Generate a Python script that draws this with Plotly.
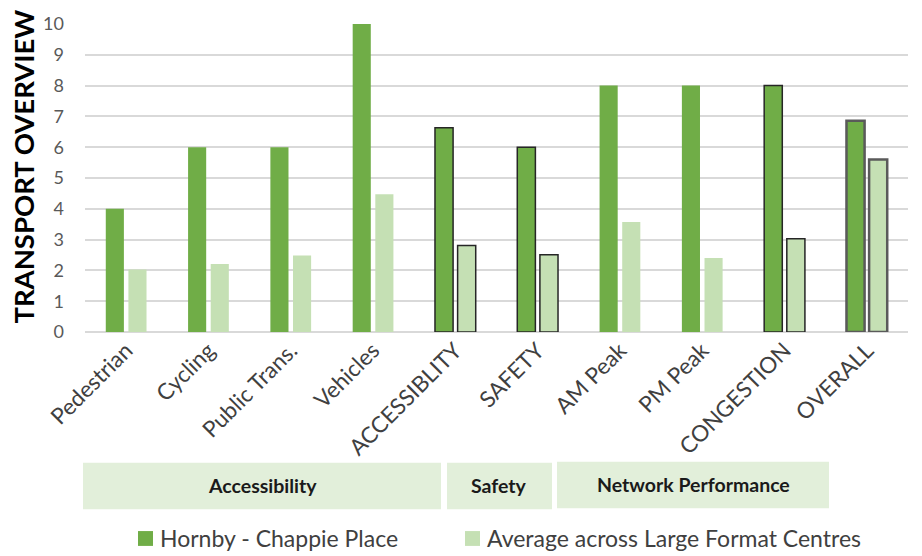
import plotly.graph_objects as go

categories = ["Pedestrian", "Cycling", "Public Trans.", "Vehicles", "ACCESSIBLITY",
              "SAFETY", "AM Peak", "PM Peak", "CONGESTION", "OVERALL"]
series_names = ["Hornby - Chappie Place", "Average across Large Format Centres"]
hornby = [4, 6, 6, 10, 6.63, 6.0, 8, 8, 8, 6.86]
average = [2.03, 2.21, 2.48, 4.47, 2.81, 2.51, 3.57, 2.40, 3.03, 5.6]
y_ticks = [0, 1, 2, 3, 4, 5, 6, 7, 8, 9, 10]
group_labels = ["Accessibility", "Safety", "Network Performance"]
y_title = "TRANSPORT OVERVIEW"

GREEN = "#70AD47"
LIGHT = "#C5E0B4"
BAND = "#E2EFDA"
FONT = "Lato"

# outline styles per category (summary bars outlined)
line_colors = ["rgba(0,0,0,0)"] * 4 + ["#262626", "#262626"] + ["rgba(0,0,0,0)"] * 2 + ["#262626", "#5a5a5a"]
line_widths = [0, 0, 0, 0, 1.5, 1.5, 0, 0, 1.5, 2.5]

fig = go.Figure()
fig.add_trace(go.Bar(x=categories, y=hornby, name=series_names[0],
                     marker=dict(color=GREEN, line=dict(color=line_colors, width=line_widths))))
fig.add_trace(go.Bar(x=categories, y=average, name=series_names[1],
                     marker=dict(color=LIGHT, line=dict(color=line_colors, width=line_widths))))

W, H = 922, 556
L, R, T, B = 85, 14, 21, 224
pw, ph = W - L - R, H - T - B


def px(x):
    return (x - L) / pw


def py(y):
    return (H - B - y) / ph


shapes = []
annotations = []

# category group bands
bands = [(83, 441, 464, 511), (447, 552, 464, 511), (557, 829, 463, 510)]
for (x0, x1, y0, y1), label in zip(bands, group_labels):
    shapes.append(dict(type="rect", xref="paper", yref="paper",
                       x0=px(x0), x1=px(x1), y0=py(y1), y1=py(y0),
                       fillcolor=BAND, line=dict(width=0), layer="below"))
    annotations.append(dict(xref="paper", yref="paper", x=px((x0 + x1) / 2), y=py((y0 + y1) / 2 - 1),
                            text="<b>" + label + "</b>", showarrow=False,
                            font=dict(family=FONT, size=19.5, color="#1a1a1a"),
                            xanchor="center", yanchor="middle"))

# manual legend
leg = [(138, GREEN), (465, LIGHT)]
for (sx, col), name in zip(leg, series_names):
    shapes.append(dict(type="rect", xref="paper", yref="paper",
                       x0=px(sx), x1=px(sx + 15), y0=py(548), y1=py(533),
                       fillcolor=col, line=dict(width=0)))
    annotations.append(dict(xref="paper", yref="paper", x=px(sx + 20), y=py(540),
                            text=name, showarrow=False, xanchor="left", yanchor="middle",
                            font=dict(family=FONT, size=23, color="#404040")))

# y-axis title
annotations.append(dict(xref="paper", yref="paper", x=px(24), y=py(165),
                        text="<b>" + y_title + "</b>", textangle=-90, showarrow=False,
                        xanchor="center", yanchor="middle",
                        font=dict(family=FONT, size=27.5, color="#000000")))

fig.update_layout(
    width=W, height=H,
    margin=dict(l=L, r=R, t=T, b=B),
    paper_bgcolor="white", plot_bgcolor="white",
    barmode="group", bargap=0.45, bargroupgap=0.2,
    showlegend=False,
    shapes=shapes, annotations=annotations,
    font=dict(family=FONT),
    xaxis=dict(tickangle=-45, tickfont=dict(family=FONT, size=22.5, color="#404040"),
               showline=False, showgrid=False, ticks=""),
    yaxis=dict(range=[0, 10], tickvals=y_ticks, showgrid=True, gridcolor="#D9D9D9", gridwidth=2,
               zeroline=True, zerolinecolor="#D9D9D9", zerolinewidth=2,
               tickfont=dict(family=FONT, size=18, color="#595959"), ticklabelstandoff=20),
)

fig.write_html("out.html")
